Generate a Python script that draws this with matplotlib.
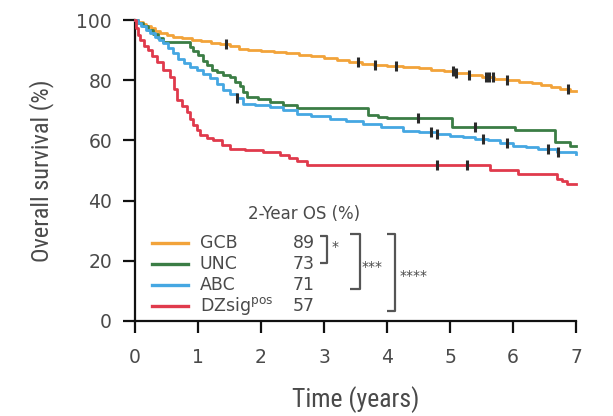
import matplotlib
matplotlib.use("Agg")
import matplotlib.pyplot as plt
from matplotlib import font_manager

# ---------------- data ----------------
gcb_t = [0, 0.05, 0.12, 0.18, 0.25, 0.32, 0.4, 0.5, 0.6, 0.75, 0.9, 1.05, 1.2, 1.35, 1.5, 1.65, 1.8, 2.0, 2.2, 2.4, 2.6, 2.8, 3.0, 3.2, 3.4, 3.6, 3.8, 4.0, 4.25, 4.5, 4.7, 4.9, 5.1, 5.3, 5.5, 5.7, 5.9, 6.1, 6.3, 6.45, 6.6, 6.75, 6.9, 7.0]
gcb_s = [100, 99.3, 98.6, 97.9, 97.2, 96.5, 95.8, 95, 94.5, 94, 93.5, 93, 92.5, 92, 91.5, 90.5, 90, 89.7, 89.3, 89, 88.5, 88, 87.3, 86.7, 86, 85.5, 85, 84.7, 84.3, 84, 83.5, 83, 82.3, 81.7, 81, 80.5, 80, 79.5, 79, 78.3, 77.7, 77, 76.3, 76.3]
gcb_cens = [1.45, 3.54, 3.81, 4.15, 5.05, 5.1, 5.3, 5.57, 5.62, 5.68, 5.9, 6.87]

unc_t = [0, 0.05, 0.12, 0.2, 0.28, 0.36, 0.45, 0.87, 0.92, 1.0, 1.08, 1.15, 1.22, 1.3, 1.4, 1.5, 1.58, 1.67, 1.72, 1.78, 1.95, 2.14, 2.35, 2.57, 3.7, 3.85, 4.0, 5.03, 6.03, 6.67, 6.9, 7.0]
unc_s = [100, 99, 98, 96.7, 95.3, 94, 92.7, 91, 89.7, 88.5, 86.5, 85, 83.5, 82.8, 81.7, 81, 79.5, 78, 76, 74.4, 73.8, 72.8, 71.7, 70.8, 68.5, 67.8, 67.5, 64.4, 63.3, 59.4, 58, 58]
unc_cens = [4.49, 5.4]

abc_t = [0, 0.05, 0.1, 0.17, 0.24, 0.32, 0.38, 0.44, 0.52, 0.6, 0.68, 0.77, 0.87, 0.98, 1.08, 1.19, 1.3, 1.4, 1.5, 1.62, 1.72, 1.9, 2.14, 2.35, 2.57, 2.8, 3.1, 3.35, 3.62, 3.9, 4.25, 4.5, 4.8, 5.0, 5.2, 5.4, 5.6, 5.8, 6.0, 6.2, 6.4, 6.7, 7.0]
abc_s = [100, 99, 98, 96.8, 95.6, 94.5, 93.3, 92.2, 90.6, 88.9, 87.2, 85.6, 84.4, 83.3, 82, 80.6, 78.6, 76.7, 75.3, 74, 72.2, 71.7, 71.1, 70, 68.9, 68, 67.2, 66.3, 65.5, 64.3, 63.2, 62.7, 62.2, 61.5, 61, 60.5, 60, 59.2, 58.3, 57.8, 57.2, 56.3, 55.6]
abc_cens = [1.62, 4.7, 4.8, 5.53, 5.9, 6.55, 6.72]

dz_t = [0, 0.02, 0.05, 0.08, 0.14, 0.2, 0.27, 0.35, 0.45, 0.56, 0.62, 0.67, 0.75, 0.83, 0.88, 0.92, 0.98, 1.03, 1.15, 1.24, 1.38, 1.51, 1.75, 2.03, 2.3, 2.45, 2.57, 2.73, 5.63, 6.08, 6.7, 6.78, 6.85, 7.0]
dz_s = [100, 97.5, 95, 93.3, 91.5, 90, 88, 86, 83.5, 81, 77, 73.3, 71.3, 69.4, 67, 65, 63.3, 61.7, 60.8, 60, 58.5, 57.2, 56.7, 56, 55, 54, 53.3, 51.7, 50.2, 48.7, 47.3, 46.5, 45.6, 45.6]
dz_cens = [4.8, 5.27]

groups = ["GCB", "UNC", "ABC", "DZsig"]
os2y = ["89", "73", "71", "57"]
colors = ["#F2A33A", "#3B7D45", "#45A7E2", "#E03A4C"]

xticks = [0, 1, 2, 3, 4, 5, 6, 7]
yticks = [0, 20, 40, 60, 80, 100]

# ---------------- fonts ----------------
narrow = None
for f in font_manager.fontManager.ttflist:
    fn = f.fname.lower()
    if ("narrow" in fn or "condensed" in fn) and "bold" not in fn and "italic" not in fn and "oblique" not in fn:
        narrow = f.fname
        if "liberation" in fn:
            break

def nf(size):
    if narrow:
        fp = font_manager.FontProperties(fname=narrow, size=size)
        return dict(fontproperties=fp)
    return dict(family="DejaVu Sans", fontsize=size * 0.85)

# ---------------- plot ----------------
TXT = "#4a4a4a"
fig = plt.figure(figsize=(6.13, 4.16), dpi=100)
ax = fig.add_axes([135/613, 95/416, 441/613, 301/416])

series = [(gcb_t, gcb_s, gcb_cens), (unc_t, unc_s, unc_cens),
          (abc_t, abc_s, abc_cens), (dz_t, dz_s, dz_cens)]

def step_at(ts, ss, x):
    val = ss[0]
    for t, s in zip(ts, ss):
        if t <= x:
            val = s
    return val

for (t, s, c), col in zip(series, colors):
    ax.step(t, s, where="post", color=col, lw=2.0, clip_on=False, zorder=3)
for (t, s, c), col in zip(series, colors):
    ax.plot(c, [step_at(t, s, x) for x in c], ls="none", marker="|",
            ms=7, mew=2.2, color="#2a2a2a", zorder=4)

ax.set_xlim(0, 7)
ax.set_ylim(0, 100)
ax.set_xticks(xticks)
ax.set_yticks(yticks)
for sp in ["top", "right"]:
    ax.spines[sp].set_visible(False)
for sp in ["left", "bottom"]:
    ax.spines[sp].set_linewidth(1.6)
    ax.spines[sp].set_color("#111111")
ax.tick_params(axis="both", direction="out", length=8.5, width=1.6, color="#111111",
               labelsize=13.5, labelcolor=TXT)
ax.tick_params(axis="x", pad=11)
ax.tick_params(axis="y", pad=8)

ax.set_xlabel("Time (years)", color=TXT, labelpad=14, **nf(18.5))
ax.set_ylabel("Overall survival (%)", color=TXT, labelpad=16, **nf(17.5))

# legend / table
ax.text(2.68, 35.7, "2-Year OS (%)", color=TXT, ha="center", va="center",
        fontsize=12, family="DejaVu Sans")
ys = [26, 19, 12, 5]
for g, v, col, yy in zip(groups, os2y, colors, ys):
    ax.plot([0.27, 0.84], [yy, yy], color=col, lw=2.4)
    if g == "DZsig":
        ax.text(1.03, yy, r"DZsig$^{\mathrm{pos}}$", fontsize=12.5, color=TXT, va="center")
    else:
        ax.text(1.03, yy, g, fontsize=12.5, color=TXT, va="center")
    ax.text(2.5, yy, v, fontsize=12.5, color=TXT, va="center")

bk = dict(color="#555555", lw=1.6, solid_capstyle="butt")
# bracket 1 (GCB vs UNC)
ax.plot([2.94, 3.05, 3.05, 2.94], [28.3, 28.3, 19.3, 19.3], **bk)
ax.text(3.12, 24.5, "*", fontsize=10, color=TXT, va="center")
# bracket 2
ax.plot([3.41, 3.57, 3.57, 3.41], [29, 29, 10.7, 10.7], **bk)
ax.text(3.6, 18, "***", fontsize=10, color=TXT, va="center")
# bracket 3
ax.plot([4.0, 4.13, 4.13, 4.0], [29, 29, 3.3, 3.3], **bk)
ax.text(4.2, 15, "****", fontsize=10, color=TXT, va="center")

fig.savefig("out.png", dpi=100)
